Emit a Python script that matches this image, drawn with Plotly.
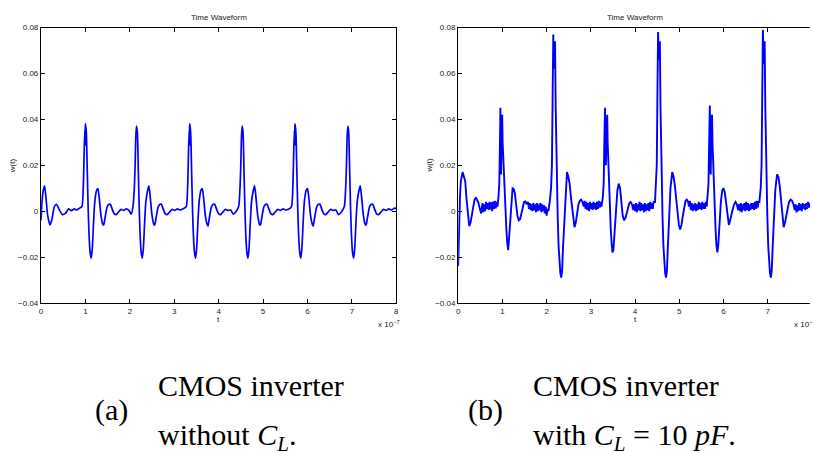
import plotly.graph_objects as go

W, H = 813, 453

# ---------------- data (t in units of 1e-7 s) ----------------
# (a) CMOS inverter without C_L
a_t_start = [0.0, 0.02, 0.05, 0.08, 0.11, 0.15, 0.2, 0.24, 0.3, 0.35, 0.4, 0.48, 0.55, 0.62, 0.68, 0.75, 0.8, 0.86]
a_w_start = [-0.004, 0.004, 0.009, 0.011, 0.006, -0.002, -0.006, -0.004, 0.002, 0.003, 0.001, -0.0015, -0.001, 0.001, 0.0002, 0.001, 0.0005, 0.0012]

a_t_p1 = [0.92, 0.95, 0.97, 0.985, 0.99, 0.995, 1.0, 1.02, 1.04, 1.06, 1.08, 1.105, 1.13, 1.155, 1.18, 1.21, 1.25, 1.28, 1.31, 1.35, 1.39, 1.41, 1.44, 1.49, 1.53, 1.56, 1.6, 1.65, 1.69, 1.74, 1.8, 1.86, 1.92, 1.98, 2.03]
a_w_p1 = [0.002, 0.010, 0.025, 0.035, 0.029, 0.036, 0.038, 0.034, 0.018, 0.002, -0.010, -0.018, -0.0205, -0.016, -0.006, 0.004, 0.009, 0.0098, 0.006, -0.002, -0.0058, -0.006, -0.003, 0.002, 0.003, 0.003, 0.001, -0.0012, -0.0015, -0.0005, 0.0008, 0.0003, 0.001, 0.0003, -0.0013]

a_t_p2 = [2.07, 2.10, 2.12, 2.135, 2.15, 2.17, 2.19, 2.21, 2.23, 2.255, 2.28, 2.305, 2.33, 2.36, 2.40, 2.43, 2.46, 2.50, 2.54, 2.56, 2.59, 2.64, 2.68, 2.71, 2.75, 2.80, 2.84, 2.89, 2.95, 3.01, 3.07, 3.13, 3.20]
a_w_p2 = [0.002, 0.010, 0.021, 0.033, 0.037, 0.034, 0.018, 0.002, -0.010, -0.018, -0.0205, -0.016, -0.006, 0.004, 0.009, 0.011, 0.006, -0.002, -0.0058, -0.006, -0.003, 0.002, 0.003, 0.003, 0.001, -0.0012, -0.0015, -0.0005, 0.0008, 0.0003, 0.001, 0.0005, 0.001]

a_t_p3 = [3.27, 3.30, 3.32, 3.335, 3.34, 3.345, 3.35, 3.37, 3.39, 3.41, 3.43, 3.455, 3.48, 3.505, 3.53, 3.56, 3.60, 3.63, 3.66, 3.70, 3.74, 3.76, 3.79, 3.84, 3.88, 3.91, 3.95, 4.00, 4.04, 4.09, 4.15, 4.21, 4.27, 4.33, 4.38]
a_w_p3 = [0.002, 0.010, 0.025, 0.035, 0.029, 0.036, 0.038, 0.034, 0.018, 0.002, -0.010, -0.018, -0.0205, -0.016, -0.006, 0.004, 0.009, 0.0098, 0.006, -0.002, -0.0058, -0.0065, -0.003, 0.002, 0.003, 0.003, 0.001, -0.0012, -0.0015, -0.0005, 0.0008, 0.0003, 0.0005, -0.0013, -0.0005]

a_t_p4 = [4.45, 4.48, 4.50, 4.515, 4.53, 4.55, 4.57, 4.59, 4.61, 4.635, 4.66, 4.685, 4.71, 4.74, 4.78, 4.81, 4.84, 4.88, 4.92, 4.94, 4.97, 5.02, 5.06, 5.09, 5.13, 5.18, 5.22, 5.27, 5.33, 5.39, 5.45, 5.51, 5.57]
a_w_p4 = [0.002, 0.010, 0.021, 0.033, 0.037, 0.034, 0.018, 0.002, -0.010, -0.018, -0.0205, -0.016, -0.006, 0.004, 0.009, 0.011, 0.006, -0.002, -0.0058, -0.006, -0.003, 0.002, 0.003, 0.003, 0.001, -0.0012, -0.0015, -0.0005, 0.0008, 0.0003, 0.001, 0.0005, 0.0008]

a_t_p5 = [5.64, 5.67, 5.69, 5.705, 5.71, 5.715, 5.72, 5.74, 5.76, 5.78, 5.80, 5.825, 5.85, 5.875, 5.90, 5.93, 5.97, 6.00, 6.03, 6.07, 6.11, 6.13, 6.16, 6.21, 6.25, 6.28, 6.32, 6.37, 6.41, 6.46, 6.52, 6.58, 6.64, 6.70, 6.76]
a_w_p5 = [0.002, 0.010, 0.025, 0.035, 0.029, 0.036, 0.038, 0.034, 0.018, 0.002, -0.010, -0.018, -0.0205, -0.016, -0.006, 0.004, 0.009, 0.0098, 0.006, -0.002, -0.0058, -0.0065, -0.003, 0.002, 0.003, 0.003, 0.001, -0.0012, -0.0015, -0.0005, 0.0008, 0.0003, 0.0005, -0.0015, -0.0005]

a_t_p6 = [6.83, 6.86, 6.88, 6.895, 6.91, 6.93, 6.95, 6.97, 6.99, 7.015, 7.04, 7.065, 7.09, 7.12, 7.16, 7.19, 7.22, 7.26, 7.30, 7.32, 7.35, 7.40, 7.44, 7.47, 7.51, 7.56, 7.60, 7.65, 7.71, 7.77, 7.83, 7.89, 7.95, 8.0]
a_w_p6 = [0.002, 0.010, 0.021, 0.033, 0.037, 0.034, 0.018, 0.002, -0.010, -0.018, -0.0205, -0.016, -0.006, 0.004, 0.009, 0.011, 0.006, -0.002, -0.0058, -0.006, -0.003, 0.002, 0.003, 0.003, 0.001, -0.0012, -0.0015, -0.0005, 0.0008, 0.0003, 0.001, 0.0005, 0.0012, 0.0013]

# (b) CMOS inverter with C_L = 10 pF
b_t_s0 = [0.0, 0.01, 0.025, 0.04, 0.06, 0.08, 0.1, 0.13, 0.16, 0.19, 0.22, 0.25, 0.28, 0.31, 0.34, 0.37, 0.4, 0.43, 0.46, 0.49, 0.52]
b_w_s0 = [-0.024, -0.012, -0.002, 0.006, 0.013, 0.016, 0.017, 0.015, 0.013, 0.005, -0.003, -0.0065, -0.005, -0.002, 0.002, 0.005, 0.006, 0.0045, 0.0035, 0.001, -0.001]
b_t_b1 = [0.55, 0.57, 0.59, 0.61, 0.63, 0.65, 0.67, 0.69, 0.71, 0.73, 0.75, 0.77, 0.79, 0.81, 0.83, 0.85, 0.87, 0.89]
b_w_b1 = [0.0035, -0.0005, 0.003, 0.0, 0.004, 0.001, 0.0035, 0.0005, 0.004, 0.0008, 0.0038, 0.0, 0.0042, 0.001, 0.0045, 0.0012, 0.004, 0.002]
b_t_p1 = [0.91, 0.93, 0.945, 0.955, 0.962, 0.97, 0.98, 0.995, 1.005, 1.015, 1.03, 1.05, 1.07, 1.09, 1.11, 1.13, 1.15, 1.17, 1.19, 1.21, 1.23, 1.25, 1.28, 1.31, 1.34, 1.37, 1.40, 1.43, 1.46, 1.49, 1.52, 1.55]
b_w_p1 = [0.006, 0.012, 0.03, 0.045, 0.03, 0.016, 0.035, 0.042, 0.03, 0.025, 0.02, 0.007, 0.0, -0.008, -0.014, -0.017, -0.012, -0.006, 0.0, 0.006, 0.01, 0.0098, 0.008, 0.003, -0.002, -0.004, -0.0035, -0.001, 0.002, 0.004, 0.0042, 0.003]
b_t_b2 = [1.58, 1.60, 1.62, 1.64, 1.66, 1.68, 1.70, 1.72, 1.74, 1.76, 1.78, 1.80, 1.82, 1.84, 1.86, 1.88, 1.90, 1.92, 1.94, 1.96, 1.98, 2.00, 2.02, 2.04]
b_w_b2 = [0.004, 0.001, 0.0035, 0.0005, 0.003, 0.0, 0.0035, 0.0005, 0.003, -0.0005, 0.0035, 0.0, 0.003, 0.0005, 0.0035, -0.0005, 0.003, 0.0, 0.0025, -0.001, 0.002, -0.002, 0.001, 0.0]
b_t_p2 = [2.07, 2.10, 2.12, 2.135, 2.15, 2.165, 2.18, 2.19, 2.205, 2.215, 2.23, 2.25, 2.27, 2.29, 2.31, 2.33, 2.35, 2.37, 2.40, 2.43, 2.46, 2.49, 2.52, 2.55, 2.58, 2.61, 2.63, 2.66, 2.69, 2.72, 2.75, 2.78, 2.81]
b_w_p2 = [0.004, 0.01, 0.02, 0.05, 0.077, 0.062, 0.07, 0.074, 0.045, 0.03, 0.012, -0.002, -0.015, -0.024, -0.027, -0.029, -0.026, -0.016, -0.004, 0.01, 0.017, 0.015, 0.012, 0.006, 0.0, -0.005, -0.007, -0.005, 0.0, 0.003, 0.0045, 0.005, 0.004]
b_t_b3 = [2.84, 2.86, 2.88, 2.90, 2.92, 2.94, 2.96, 2.98, 3.00, 3.02, 3.04, 3.06, 3.08, 3.10, 3.12, 3.14, 3.16, 3.18, 3.20, 3.22, 3.24]
b_w_b3 = [0.002, 0.0045, 0.001, 0.004, 0.0005, 0.0035, 0.0, 0.004, 0.001, 0.0035, 0.0005, 0.004, 0.001, 0.0035, 0.0005, 0.004, 0.001, 0.0045, 0.0015, 0.004, 0.002]
b_t_p3 = [3.27, 3.29, 3.305, 3.32, 3.33, 3.34, 3.355, 3.37, 3.38, 3.395, 3.41, 3.43, 3.45, 3.47, 3.49, 3.51, 3.53, 3.55, 3.57, 3.60, 3.63, 3.66, 3.69, 3.72, 3.75, 3.78, 3.81, 3.84, 3.87, 3.90, 3.93]
b_w_p3 = [0.006, 0.012, 0.03, 0.045, 0.03, 0.02, 0.035, 0.042, 0.03, 0.02, 0.01, 0.0, -0.008, -0.014, -0.018, -0.017, -0.012, -0.005, 0.002, 0.009, 0.012, 0.01, 0.004, -0.002, -0.004, -0.003, -0.001, 0.001, 0.0035, 0.004, 0.003]
b_t_b4 = [3.96, 3.98, 4.00, 4.02, 4.04, 4.06, 4.08, 4.10, 4.12, 4.14, 4.16, 4.18, 4.20, 4.22, 4.24, 4.26, 4.28, 4.30, 4.32, 4.34, 4.36, 4.38, 4.40, 4.42]
b_w_b4 = [0.0005, 0.003, 0.0, 0.0035, -0.0005, 0.003, 0.0005, 0.004, 0.0, 0.0035, 0.0005, 0.003, -0.0005, 0.0035, 0.0, 0.003, 0.0005, 0.0035, 0.0, 0.004, 0.001, 0.0035, 0.001, 0.004]
b_t_p4 = [4.45, 4.47, 4.49, 4.505, 4.52, 4.535, 4.55, 4.56, 4.575, 4.585, 4.60, 4.62, 4.64, 4.66, 4.68, 4.70, 4.72, 4.74, 4.77, 4.80, 4.84, 4.87, 4.90, 4.93, 4.96, 4.99, 5.02, 5.05, 5.08, 5.11, 5.14, 5.17, 5.20]
b_w_p4 = [0.004, 0.01, 0.02, 0.05, 0.078, 0.066, 0.07, 0.074, 0.045, 0.03, 0.012, -0.002, -0.015, -0.024, -0.027, -0.029, -0.026, -0.016, -0.003, 0.01, 0.017, 0.015, 0.011, 0.005, -0.002, -0.006, -0.008, -0.006, -0.002, 0.002, 0.0045, 0.005, 0.004]
b_t_b5 = [5.22, 5.24, 5.26, 5.28, 5.30, 5.32, 5.34, 5.36, 5.38, 5.40, 5.42, 5.44, 5.46, 5.48, 5.50, 5.52, 5.54, 5.56, 5.58, 5.60, 5.62]
b_w_b5 = [0.002, 0.0045, 0.0005, 0.0035, 0.0, 0.003, 0.0005, 0.0035, 0.0, 0.003, 0.0005, 0.004, 0.001, 0.0035, 0.0005, 0.004, 0.001, 0.0035, 0.001, 0.004, 0.002]
b_t_p5 = [5.64, 5.66, 5.675, 5.69, 5.70, 5.71, 5.725, 5.74, 5.75, 5.765, 5.78, 5.80, 5.82, 5.84, 5.86, 5.88, 5.90, 5.92, 5.94, 5.97, 6.00, 6.03, 6.06, 6.09, 6.12, 6.15, 6.18, 6.21, 6.24, 6.27, 6.30]
b_w_p5 = [0.006, 0.012, 0.03, 0.046, 0.03, 0.016, 0.035, 0.042, 0.03, 0.02, 0.01, 0.0, -0.008, -0.015, -0.018, -0.015, -0.008, -0.002, 0.004, 0.009, 0.01, 0.008, 0.003, -0.003, -0.006, -0.004, -0.001, 0.001, 0.003, 0.004, 0.003]
b_t_b6 = [6.33, 6.35, 6.37, 6.39, 6.41, 6.43, 6.45, 6.47, 6.49, 6.51, 6.53, 6.55, 6.57, 6.59, 6.61, 6.63, 6.65, 6.67, 6.69, 6.71, 6.73, 6.75, 6.77, 6.79]
b_w_b6 = [0.0005, 0.003, 0.0, 0.0035, -0.0005, 0.003, 0.0005, 0.0035, 0.0, 0.004, 0.0005, 0.0035, 0.0, 0.003, 0.0005, 0.0035, 0.001, 0.0035, 0.0005, 0.004, 0.001, 0.0045, 0.0015, 0.004]
b_t_p6 = [6.81, 6.84, 6.86, 6.875, 6.89, 6.905, 6.92, 6.93, 6.945, 6.955, 6.97, 6.99, 7.01, 7.03, 7.05, 7.07, 7.09, 7.11, 7.14, 7.17, 7.21, 7.24, 7.27, 7.30, 7.33, 7.36, 7.39, 7.42, 7.45, 7.48, 7.52, 7.55, 7.58]
b_w_p6 = [0.004, 0.01, 0.02, 0.05, 0.079, 0.064, 0.07, 0.074, 0.045, 0.03, 0.012, -0.002, -0.015, -0.024, -0.027, -0.029, -0.026, -0.016, -0.003, 0.009, 0.016, 0.015, 0.011, 0.005, -0.002, -0.007, -0.005, -0.002, 0.002, 0.004, 0.005, 0.0045, 0.003]
b_t_b7 = [7.61, 7.63, 7.65, 7.67, 7.69, 7.71, 7.73, 7.75, 7.77, 7.79, 7.81, 7.83, 7.85, 7.87, 7.89, 7.91, 7.93, 7.95, 7.97]
b_w_b7 = [0.0005, 0.003, -0.0005, 0.0025, 0.0, 0.0035, 0.0005, 0.003, 0.0, 0.0035, 0.001, 0.003, 0.0005, 0.0035, 0.001, 0.004, 0.0015, 0.0035, 0.002]

x_ticks = [0, 1, 2, 3, 4, 5, 6, 7, 8]
y_ticks = [-0.04, -0.02, 0, 0.02, 0.04, 0.06, 0.08]
y_tick_text = ["\u22120.04", "\u22120.02", "0", "0.02", "0.04", "0.06", "0.08"]

a_segments = [(a_t_start, a_w_start), (a_t_p1, a_w_p1), (a_t_p2, a_w_p2), (a_t_p3, a_w_p3),
              (a_t_p4, a_w_p4), (a_t_p5, a_w_p5), (a_t_p6, a_w_p6)]
b_segments = [(b_t_s0, b_w_s0), (b_t_b1, b_w_b1), (b_t_p1, b_w_p1), (b_t_b2, b_w_b2),
              (b_t_p2, b_w_p2), (b_t_b3, b_w_b3), (b_t_p3, b_w_p3), (b_t_b4, b_w_b4),
              (b_t_p4, b_w_p4), (b_t_b5, b_w_b5), (b_t_p5, b_w_p5), (b_t_b6, b_w_b6),
              (b_t_p6, b_w_p6), (b_t_b7, b_w_b7)]


def join(segs):
    ts, ws = [], []
    for t, w in segs:
        n = min(len(t), len(w))
        ts += t[:n]
        ws += w[:n]
    return ts, ws


a_t, a_w = join(a_segments)
b_t, b_w = join(b_segments)

# ---------------- layout geometry ----------------
def px(x):
    return x / W


def py(y):
    return 1 - y / H


ax_top, ax_bot = 24, 305
left_l, left_r = 39.3, 396.7
right_l = 459.0
right_end_px = 815.0  # true axis end lies just outside the image
right_range_max = 8 * (W - right_l) / (right_end_px - right_l)

fig = go.Figure()
fig.add_trace(go.Scatter(x=a_t, y=a_w, mode="lines", xaxis="x", yaxis="y",
                         line=dict(color="#0000ff", width=1.7, shape="spline", smoothing=0.6),
                         showlegend=False, hoverinfo="skip"))
fig.add_trace(go.Scatter(x=b_t, y=b_w, mode="lines", xaxis="x2", yaxis="y2",
                         line=dict(color="#0000ff", width=1.9),
                         showlegend=False, hoverinfo="skip"))

tickfont = dict(family="Liberation Sans", size=8, color="#222")
axis_common = dict(showgrid=False, zeroline=False, showline=True, linecolor="black",
                   linewidth=1.3, ticks="inside", ticklen=4, tickwidth=1, tickcolor="black",
                   tickfont=tickfont)

fig.update_layout(
    width=W, height=H,
    margin=dict(l=0, r=0, t=0, b=0),
    paper_bgcolor="white", plot_bgcolor="white",
    xaxis=dict(axis_common, domain=[px(left_l), px(left_r)], range=[0, 8],
               tickvals=x_ticks, ticktext=[str(v) for v in x_ticks], mirror="ticks", anchor="y"),
    yaxis=dict(axis_common, domain=[py(ax_bot), py(ax_top)], range=[-0.04, 0.08],
               tickvals=y_ticks, ticktext=y_tick_text, mirror="ticks", anchor="x"),
    xaxis2=dict(axis_common, domain=[px(right_l), 1.0], range=[0, right_range_max],
                tickvals=x_ticks, ticktext=[str(v) for v in x_ticks], mirror="ticks", anchor="y2"),
    yaxis2=dict(axis_common, domain=[py(ax_bot), py(ax_top)], range=[-0.04, 0.08],
                tickvals=y_ticks, ticktext=y_tick_text, mirror=False, anchor="x2"),
)

small = dict(family="Liberation Sans", size=8, color="#222")
serif = dict(family="Liberation Serif", size=30, color="black")
ann = []
for cx, ylab_x, xl, xr in [((left_l + left_r) / 2, 10, left_l, left_r),
                            ((right_l + right_end_px) / 2, 430, right_l, right_end_px)]:
    ann.append(dict(x=px(cx), y=py(14), text="Time Waveform", font=small))
    ann.append(dict(x=px(ylab_x), y=py((ax_top + ax_bot) / 2), text="w(t)", font=small, textangle=-90))
    ann.append(dict(x=px(cx), y=py(322), text="t", font=small))
    ann.append(dict(x=px(xr - 20), y=py(326), text="x 10<sup>\u22127</sup>", font=small, xanchor="left"))

ann += [
    dict(x=px(110), y=py(414), text="(a)", font=serif),
    dict(x=px(155), y=py(389), text="CMOS inverter", font=serif, xanchor="left"),
    dict(x=px(155), y=py(442), text="without <i>C</i><sub><i>L</i></sub>.", font=serif, xanchor="left"),
    dict(x=px(486), y=py(414), text="(b)", font=serif),
    dict(x=px(532), y=py(389), text="CMOS inverter", font=serif, xanchor="left"),
    dict(x=px(532), y=py(442), text="with <i>C</i><sub><i>L</i></sub> = 10 <i>pF</i>.", font=serif, xanchor="left"),
]
for a in ann:
    a.setdefault("xanchor", "center")
    a["yanchor"] = "middle"
    a["xref"] = "paper"
    a["yref"] = "paper"
    a["showarrow"] = False
fig.update_layout(annotations=ann)

fig.write_html("out.html")
